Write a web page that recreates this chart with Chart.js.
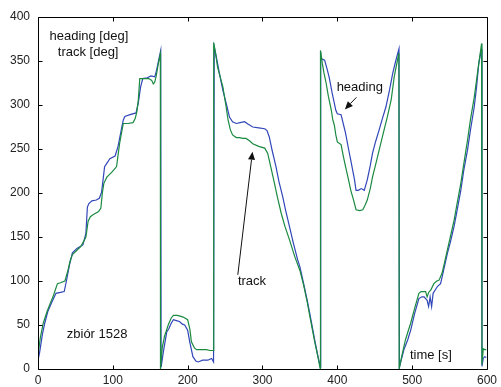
<!DOCTYPE html>
<html>
<head>
<meta charset="utf-8">
<script src="https://cdn.jsdelivr.net/npm/chart.js@4.4.1/dist/chart.umd.min.js"></script>
<style>
  html, body { margin: 0; padding: 0; background: #fff; }
  #wrap { width: 501px; height: 387px; }
</style>
</head>
<body>
<div id="wrap"><canvas id="c" width="501" height="387"></canvas></div>
<script>
// Heading (blue) samples: time [s] and angle [deg]
const headingTime = [
  0, 2, 6, 9, 13, 18, 24, 30, 35, 38, 42, 46, 52, 60, 64, 66, 68, 72, 78, 82, 85, 89, 93, 96, 103, 107, 112, 114, 116, 123, 131, 134, 137, 140, 146, 151, 156, 158, 161, 164,
  164.5, 168, 172, 175, 178, 181, 185, 189, 193, 196, 200, 203, 207, 211, 214, 220, 227, 232, 234.6,
  235.5, 238, 242, 247, 252, 256, 260, 265, 270, 276, 281, 287, 295, 303, 306, 309, 313, 318, 322, 327, 331, 336, 341, 347, 350, 355, 360, 365, 370, 374, 377.3,
  377.6, 378, 383, 386, 389, 393, 398, 400, 405, 409, 411, 415, 418, 423, 425, 428, 432, 436, 440, 444, 447, 451, 456, 460, 465, 470, 474, 478, 482.4,
  482.9, 486, 489, 494, 498, 503, 509, 513, 516, 520, 522, 524, 526, 528, 531, 534, 538, 542, 547, 551, 556, 560, 565, 569, 574, 578, 583, 586, 589, 592.8,
  593.3, 595, 597, 599
];
const headingDeg = [
  10, 18, 40, 52, 65, 75, 86, 87, 88, 100, 118, 132, 137, 141, 154, 184, 188, 191, 192, 194, 201, 230, 235, 239, 242, 253, 275, 283, 287, 289, 291, 302, 320, 330, 331, 333, 332, 338, 350, 362,
  2, 22, 42, 46, 52, 56, 55, 54, 51, 50, 44, 30, 14, 9, 8, 10, 10, 12, 8,
  366, 356, 338, 317, 300, 286, 281, 279, 280, 281, 278, 275, 274, 273, 271, 264, 248, 230, 213, 196, 180, 162, 144, 124, 116, 97, 77, 55, 32, 15, 2,
  360, 353, 351, 342, 332, 314, 294, 290, 289, 275, 268, 250, 237, 215, 203, 203, 205, 203, 215, 231, 245, 258, 272, 284, 298, 318, 336, 350, 364,
  2, 12, 22, 33, 44, 62, 80, 82, 82, 78, 71, 82, 71, 86, 90, 94, 97, 112, 131, 144, 162, 180, 203, 226, 249, 272, 298, 320, 347, 364,
  3, 12, 14, 13
];

// Track (green) samples: time [s] and angle [deg]
const trackTime = [
  0, 3, 7, 12, 16, 20, 24, 26, 30, 36, 40, 43, 46, 52, 57, 61, 64, 67, 70, 73, 77, 81, 84, 86, 88, 92, 99, 105, 107, 109, 112, 114, 120, 127, 130, 132, 134, 136, 142, 148, 152, 154, 156, 158, 161, 163.5,
  163.7, 166, 169, 174, 178, 181, 186, 190, 194, 200, 203, 205, 209, 212, 218, 225, 230, 234.5,
  234.8, 237, 240, 244, 247, 251, 254, 257, 260, 265, 269, 274, 278, 283, 287, 295, 303, 307, 311, 316, 320, 325, 330, 336, 343, 350, 355, 360, 365, 370, 374, 377.2,
  377.5, 380, 382, 385, 388, 392, 394, 396, 398, 400, 405, 408, 411, 415, 418, 422, 425, 430, 434, 437, 440, 444, 447, 452, 458, 462, 467, 472, 476, 479, 482.3,
  482.7, 484, 487, 491, 495, 498, 503, 509, 512, 518, 520, 522, 525, 529, 533, 536, 540, 543, 547, 551, 556, 560, 565, 569, 574, 578, 583, 586, 589, 592.8,
  593.3, 595, 597, 599
];
const trackDeg = [
  16, 35, 52, 65, 74, 82, 92, 97, 98, 100, 112, 123, 130, 135, 139, 145, 150, 168, 173, 175, 177, 179, 183, 200, 211, 218, 224, 230, 243, 256, 270, 279, 279, 280, 285, 292, 305, 330, 330, 330, 328, 324, 326, 333, 348, 358,
  0, 24, 37, 50, 58, 61, 61, 60, 59, 56, 45, 31, 24, 22, 22, 22, 21, 21,
  371, 360, 343, 330, 321, 300, 283, 272, 266, 263, 263, 262, 262, 259, 256, 253, 251, 245, 230, 211, 195, 177, 162, 147, 128, 112, 95, 75, 52, 30, 14, 0,
  362, 347, 337, 325, 310, 294, 283, 277, 266, 258, 255, 242, 230, 215, 203, 191, 181, 180, 181, 186, 192, 205, 218, 235, 256, 270, 287, 306, 332, 345, 359,
  0, 6, 18, 33, 44, 52, 68, 86, 88, 88, 82, 87, 90, 97, 100, 101, 109, 120, 135, 150, 169, 188, 211, 233, 260, 284, 309, 328, 347, 370,
  5, 23, 22, 22
];

// Axis tick values
const timeTicks = [0, 100, 200, 300, 400, 500, 600];
const degTicks = [0, 50, 100, 150, 200, 250, 300, 350, 400];

// Text notes placed in data coordinates [time, deg]
const notes = [
  { text: 'heading [deg]', t: 68, d: 378 },
  { text: 'track [deg]', t: 67, d: 360 },
  { text: 'zbiór 1528', t: 79, d: 39 },
  { text: 'time [s]', t: 525, d: 15 },
  { text: 'heading', t: 430, d: 320 },
  { text: 'track', t: 286, d: 99 }
];
// Pointer arrows: from [t, d] to [t, d]
const arrows = [
  { from: [267, 107], to: [286.6, 247] },
  { from: [425.5, 308.7], to: [410, 295] }
];

const toPoints = (ts, vs) => ts.map((t, i) => ({ x: t, y: vs[i] }));
const FONT = '"Liberation Sans", Arial, sans-serif';

const frame = {
  id: 'frame',
  afterDatasetsDraw(chart) {
    const { ctx, chartArea: a, scales: { x, y } } = chart;
    ctx.save();
    ctx.strokeStyle = '#000';
    ctx.lineWidth = 1;
    ctx.beginPath();
    const L = Math.round(a.left) + 0.5, R = Math.round(a.right) + 0.5;
    const T = Math.round(a.top) + 0.5, B = Math.round(a.bottom) + 0.5;
    ctx.rect(L, T, R - L, B - T);
    const tl = 4;
    timeTicks.forEach(v => {
      const px = Math.round(x.getPixelForValue(v)) + 0.5;
      ctx.moveTo(px, B); ctx.lineTo(px, B - tl);
      ctx.moveTo(px, T); ctx.lineTo(px, T + tl);
    });
    degTicks.forEach(v => {
      const py = Math.round(y.getPixelForValue(v)) + 0.5;
      ctx.moveTo(L, py); ctx.lineTo(L + tl, py);
      ctx.moveTo(R, py); ctx.lineTo(R - tl, py);
    });
    ctx.stroke();

    // notes
    ctx.fillStyle = '#111';
    ctx.font = '13px ' + FONT;
    ctx.textAlign = 'center';
    ctx.textBaseline = 'middle';
    notes.forEach(n => {
      ctx.fillText(n.text, x.getPixelForValue(n.t), y.getPixelForValue(n.d));
    });

    // arrows
    arrows.forEach(ar => {
      const x1 = x.getPixelForValue(ar.from[0]), y1 = y.getPixelForValue(ar.from[1]);
      const x2 = x.getPixelForValue(ar.to[0]), y2 = y.getPixelForValue(ar.to[1]);
      const ang = Math.atan2(y2 - y1, x2 - x1);
      const hl = 8, hw = 3.5;
      const bx = x2 - hl * Math.cos(ang), by = y2 - hl * Math.sin(ang);
      ctx.strokeStyle = '#111';
      ctx.lineWidth = 1;
      ctx.beginPath();
      ctx.moveTo(x1, y1); ctx.lineTo(bx, by);
      ctx.stroke();
      ctx.beginPath();
      ctx.moveTo(x2, y2);
      ctx.lineTo(bx + hw * Math.sin(ang), by - hw * Math.cos(ang));
      ctx.lineTo(bx - hw * Math.sin(ang), by + hw * Math.cos(ang));
      ctx.closePath();
      ctx.fillStyle = '#111';
      ctx.fill();
    });
    ctx.restore();
  }
};

new Chart(document.getElementById('c'), {
  type: 'scatter',
  data: {
    datasets: [
      {
        label: 'track',
        data: toPoints(trackTime, trackDeg),
        showLine: true,
        borderColor: '#1a8a40',
        borderWidth: 1.2,
        pointRadius: 0,
        tension: 0,
        order: 0
      },
      {
        label: 'heading',
        data: toPoints(headingTime, headingDeg),
        showLine: true,
        borderColor: '#3146b8',
        borderWidth: 1.2,
        pointRadius: 0,
        tension: 0,
        order: 1
      }
    ]
  },
  options: {
    responsive: false,
    animation: false,
    events: [],
    layout: { padding: { top: 17, right: 14, left: 0, bottom: 0 } },
    plugins: { legend: { display: false }, tooltip: { enabled: false } },
    scales: {
      x: {
        type: 'linear',
        min: 0, max: 600,
        afterBuildTicks: s => { s.ticks = timeTicks.map(v => ({ value: v })); },
        afterFit: s => { s.height = 18; },
        grid: { display: false, drawTicks: false, tickLength: 0 },
        border: { display: false },
        ticks: { padding: 4, color: '#222', font: { family: FONT, size: 12 }, maxRotation: 0 }
      },
      y: {
        type: 'linear',
        min: 0, max: 400,
        afterBuildTicks: s => { s.ticks = degTicks.map(v => ({ value: v })); },
        afterFit: s => { s.width = 38; },
        grid: { display: false, drawTicks: false, tickLength: 0 },
        border: { display: false },
        ticks: { padding: 8, color: '#222', font: { family: FONT, size: 12 } }
      }
    }
  },
  plugins: [frame]
});
</script>
</body>
</html>
